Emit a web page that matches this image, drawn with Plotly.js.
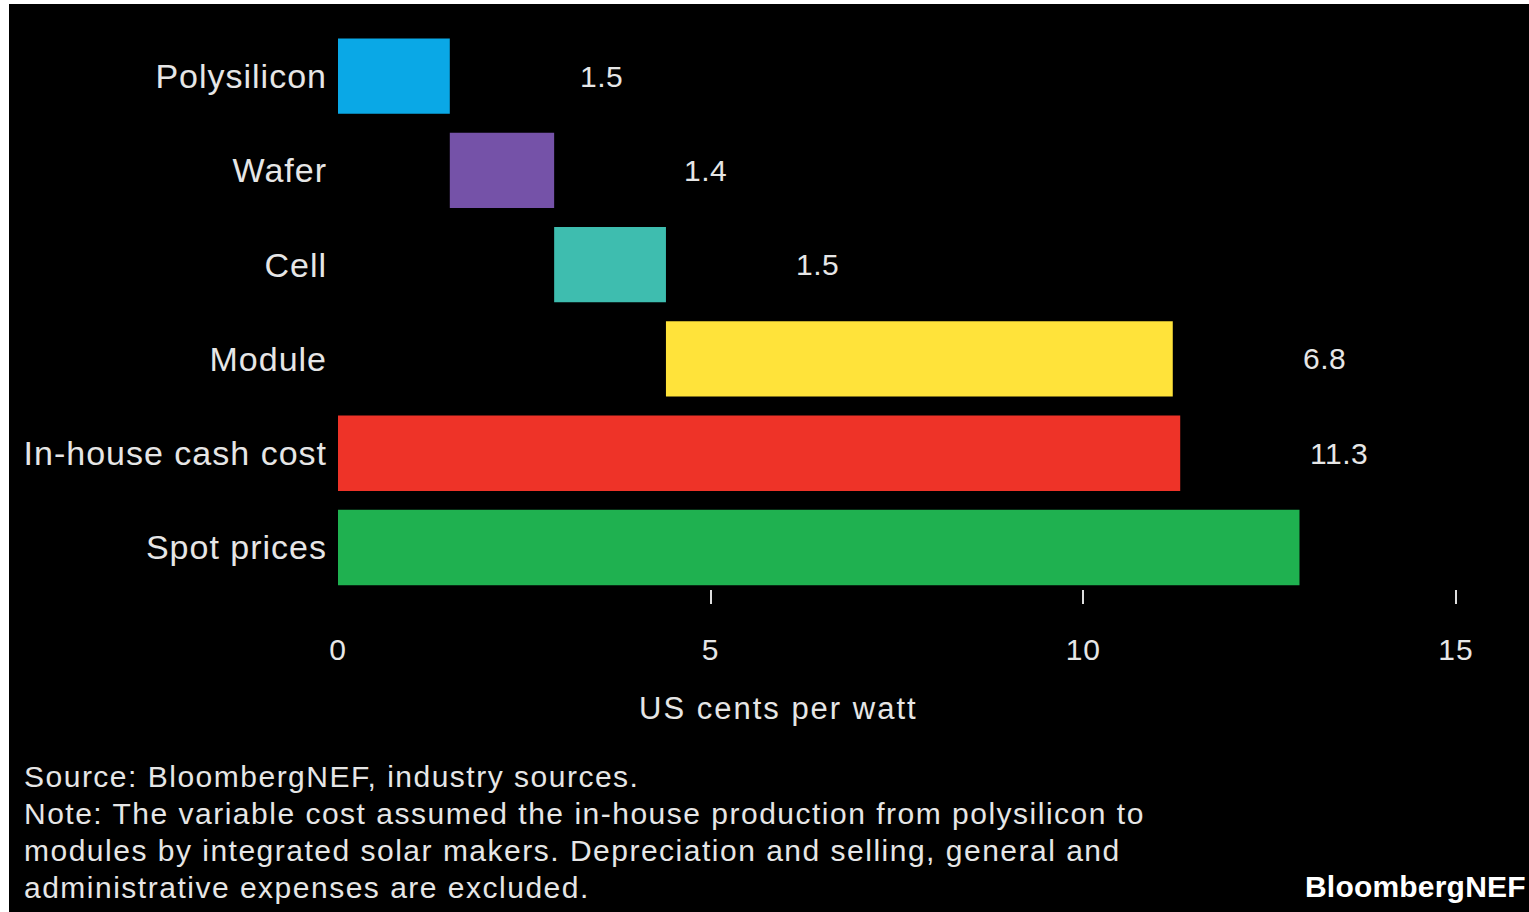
<!DOCTYPE html>
<html>
<head>
<meta charset="utf-8">
<script src="https://cdn.plot.ly/plotly-3.0.1.min.js"></script>
<style>
  html, body { margin: 0; padding: 0; background: #ffffff; width: 1529px; height: 912px; overflow: hidden; }
  #chart { position: absolute; left: 9px; top: 4px; width: 1520px; height: 908px; }
  #chart .ytick text { letter-spacing: 1px; }
  #chart .xtick text { letter-spacing: 1px; }
</style>
</head>
<body>
<div id="chart"></div>
<script>
// ---- data ----
const categories = ['Polysilicon', 'Wafer', 'Cell', 'Module', 'In-house cash cost', 'Spot prices'];
const values = [1.5, 1.4, 1.5, 6.8, 11.3, 12.9];
const isStep = [true, true, true, true, false, false];   // value-chain steps stack end to end
const valueLabels = ['1.5', '1.4', '1.5', '6.8', '11.3', ''];
const barColors = ['#0AA8E6', '#7552A8', '#3EBDAF', '#FFE33A', '#EE3328', '#1FB150'];
const xTickVals = [0, 5, 10, 15];
const xTickMarks = [5, 10, 15];
const xTitle = 'US cents per watt';
const footLines = [
  'Source: BloombergNEF, industry sources.',
  'Note: The variable cost assumed the in-house production from polysilicon to',
  'modules by integrated solar makers. Depreciation and selling, general and',
  'administrative expenses are excluded.'
];
const brand = 'BloombergNEF';

// bases for the waterfall steps
const bases = [];
let run = 0;
values.forEach((v, i) => {
  if (isStep[i]) { bases.push(run); run += v; } else { bases.push(0); }
});

// ---- layout helpers (page pixel -> paper) ----
const PL = 338, PR = 1456, PT = 29, PB = 604;
const xp = px => (px - PL) / (PR - PL);
const yp = py => (PB - py) / (PB - PT);

const FONT = '"Liberation Sans", Arial, sans-serif';
const TXT = '#e6e6e6';
const spaced = (t, ls) => '<span style="letter-spacing:' + ls + 'px">' + t + '</span>';

const annotations = [];
values.forEach((v, i) => {
  if (!valueLabels[i]) return;
  annotations.push({
    x: bases[i] + v + 1.72, y: categories[i], xref: 'x', yref: 'y',
    text: spaced(valueLabels[i], 0.5), showarrow: false, xanchor: 'left', yanchor: 'middle',
    font: { family: FONT, size: 30, color: TXT }
  });
});
annotations.push({
  x: xp(778), y: yp(708), xref: 'paper', yref: 'paper', text: spaced(xTitle, 2),
  showarrow: false, xanchor: 'center', yanchor: 'middle',
  font: { family: FONT, size: 31, color: TXT }
});
const footY = [776, 813, 850, 887];
footLines.forEach((t, i) => {
  annotations.push({
    x: xp(22), y: yp(footY[i]), xref: 'paper', yref: 'paper', text: spaced(t, 1.5),
    showarrow: false, xanchor: 'left', yanchor: 'middle',
    font: { family: FONT, size: 30, color: TXT }
  });
});
annotations.push({
  x: xp(1303), y: yp(886), xref: 'paper', yref: 'paper', text: '<b>' + spaced(brand, 0.2) + '</b>',
  showarrow: false, xanchor: 'left', yanchor: 'middle',
  font: { family: FONT, size: 30, color: '#ffffff' }
});

const trace = {
  type: 'bar', orientation: 'h',
  y: categories, x: values, base: bases,
  marker: { color: barColors, line: { width: 0 } },
  hoverinfo: 'skip'
};

const layout = {
  width: 1520, height: 908,
  paper_bgcolor: '#000000', plot_bgcolor: '#000000',
  margin: { l: PL - 9, r: 1520 - (PR - 9), t: PT - 4, b: 908 - (PB - 4), pad: 0 },
  showlegend: false,
  bargap: 0.2,
  xaxis: {
    range: [0, 15], fixedrange: true,
    tickvals: xTickVals, ticktext: xTickVals.map(String),
    ticks: '', showgrid: false, zeroline: false, showline: false,
    tickfont: { family: FONT, size: 30, color: TXT },
    ticklabelstandoff: 25,
    minor: { tickvals: xTickMarks, ticks: 'inside', ticklen: 14, tickwidth: 2, tickcolor: '#dddddd', showgrid: false }
  },
  yaxis: {
    type: 'category', range: [5.6, -0.5], autorange: false, fixedrange: true,
    ticks: '', showgrid: false, zeroline: false, showline: false,
    tickfont: { family: FONT, size: 34, color: TXT },
    ticklabelstandoff: 10
  },
  annotations: annotations
};

Plotly.newPlot('chart', [trace], layout, { displayModeBar: false, staticPlot: true });
</script>
</body>
</html>
